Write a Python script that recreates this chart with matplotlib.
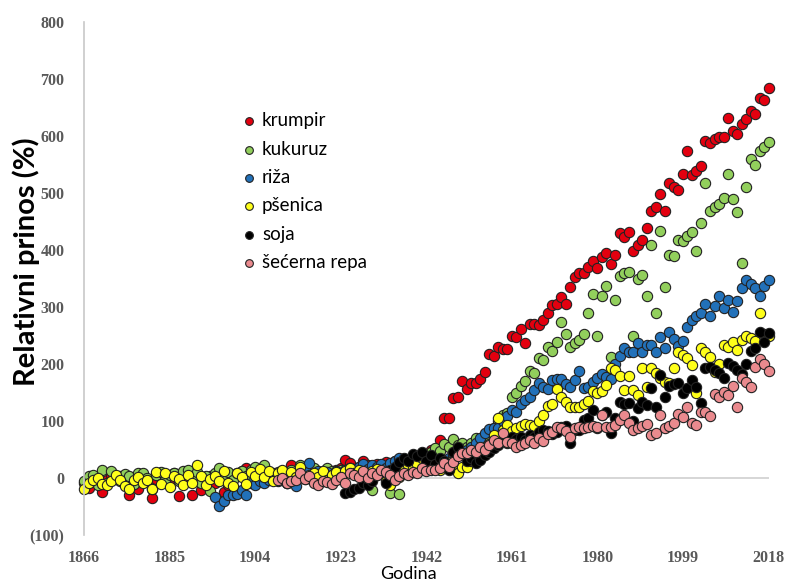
import matplotlib
matplotlib.use("Agg")
import matplotlib.pyplot as plt
import numpy as np

# relativni prinos (%) po godinama, ocitano sa slike
krumpir_years = np.arange(1866, 2019)
krumpir = [
    -8, -18, -5, 2, -24, -3, 5, -2, 3, -8, -30, 0, -20, 4, -6, -35, -2, 6, 3, -4,
    8, -31, 2, -6, -30, 4, -21, -10, 3, -8, 5, -25, -12, 0, 6, 12, 17, 8, 3, 10,
    5, -2, 8, 4, 10, -3, 23, 12, 6, 15, 3, 10, 5, 12, 2, -5, 14, 18, 32, 26,
    15, 20, 30, 22, 18, 25, 20, 28, 15, 30, 25, 34, 28, 35, 30, 40, 36, 49, 46, 67,
    105, 105, 140, 142, 170, 156, 166, 166, 173, 186, 217, 214, 229, 226, 226, 250, 247, 261, 236, 271,
    270, 268, 277, 289, 304, 306, 317, 306, 335, 352, 359, 359, 371, 380, 368, 387, 394, 375, 392, 429,
    422, 431, 399, 408, 417, 438, 469, 475, 499, 469, 518, 510, 506, 534, 573, 531, 539, 548, 592, 588,
    595, 599, 599, 632, 609, 604, 621, 630, 644, 639, 667, 664, 685,
]

kukuruz_years = np.arange(1866, 2019)
kukuruz = [
    -6, 3, 6, -12, 14, -8, 12, 2, -5, 7, 4, -10, 8, 9, 0, -20, 6, 10, -4, 5,
    8, -6, 12, 14, 2, 10, -8, 4, -22, 8, 17, 5, 10, -4, 9, 12, 3, 14, 19, 8,
    23, 6, -2, 10, 3, -8, 14, 8, 23, 15, 6, 18, 10, 4, 17, 12, 5, 14, 10, 18,
    8, 12, 15, 6, -21, 12, 18, 10, -27, 8, -28, 20, 25, 28, 32, 38, 42, 45, 52, 48,
    60, 55, 68, 58, 62, 55, 61, 70, 66, 75, 80, 88, 100, 110, 114, 142, 149, 161, 170, 187,
    184, 210, 207, 230, 222, 238, 273, 252, 230, 236, 242, 252, 289, 322, 250, 320, 336, 212, 312, 355,
    359, 361, 250, 350, 357, 319, 408, 289, 434, 335, 391, 389, 418, 415, 425, 432, 399, 448, 517, 469,
    475, 481, 492, 534, 489, 466, 377, 510, 560, 550, 573, 580, 590,
]

riza_years = np.arange(1895, 2019)
riza = [
    -33, -49, -40, -30, -30, -28, -21, -30, -9, -12, -6, -9, -4, 2, -5, 3, -8, 0, -14, 5,
    18, 26, 8, 12, 4, 10, 6, 12, 8, 14, 18, 10, 20, 24, 15, 22, 20, 25, 18, 26,
    30, 35, 28, 32, 36, 30, 35, 38, 30, 26, 32, 28, 35, 40, 45, 42, 50, 55, 62, 70,
    79, 86, 88, 88, 100, 108, 119, 116, 130, 137, 142, 154, 166, 159, 156, 172, 173, 173, 165, 159,
    172, 187, 158, 159, 168, 176, 182, 177, 173, 200, 214, 228, 221, 221, 236, 221, 233, 233, 221, 247,
    228, 256, 243, 231, 240, 265, 277, 285, 289, 306, 285, 301, 320, 298, 312, 291, 310, 334, 347, 341,
    334, 320, 336, 347,
]

psenica_years = np.arange(1866, 2019)
psenica = [
    -19, -8, -3, 0, -10, -12, -6, 5, -4, -14, -19, -3, 2, -8, -4, -19, 10, -10, 8, -15,
    4, -2, -12, 6, -8, 22, 3, -12, -2, 4, -6, 12, -8, -14, 8, 2, -10, 10, 3, 15,
    2, 12, -5, 8, 14, -2, 10, 2, 20, -2, 5, 8, 2, 12, -4, 6, 10, 2, 12, 18,
    8, 14, 10, 5, 12, 16, 8, -5, -12, 10, 2, 15, 22, 18, 24, 35, 32, 28, 20, 14,
    22, 28, 25, 9, 20, 19, 30, 34, 38, 45, 60, 75, 105, 85, 93, 82, 88, 91, 95, 93,
    91, 100, 110, 126, 130, 156, 142, 133, 124, 124, 124, 130, 135, 152, 149, 152, 163, 193, 189, 179,
    154, 179, 154, 145, 193, 160, 193, 184, 175, 168, 166, 193, 221, 215, 210, 198, 150, 228, 221, 212,
    186, 200, 233, 229, 238, 224, 242, 249, 246, 240, 289, 252, 250,
]

soja_years = np.arange(1924, 2019)
soja = [
    -26, -24, -20, -18, -9, -12, -5, 5, 10, -9, 14, 20, 28, 35, 30, 42, 38, 45, 30, 40,
    25, 35, 30, 14, 45, 54, 40, 30, 35, 26, 32, 40, 45, 52, 58, 65, 62, 72, 68, 72,
    66, 75, 72, 80, 85, 82, 78, 80, 90, 92, 61, 84, 84, 102, 105, 119, 88, 110, 116, 79,
    105, 133, 130, 131, 100, 123, 133, 128, 158, 124, 180, 142, 161, 165, 166, 149, 158, 172, 159, 131,
    193, 194, 189, 184, 175, 201, 196, 189, 182, 200, 222, 228, 256, 238, 254,
]

repa_years = np.arange(1909, 2019)
repa = [
    -3, 0, -8, -5, -4, 9, -2, 4, -9, -12, -6, -7, -10, -4, 2, -8, 9, 5, 2, 12,
    0, 9, 5, 14, 11, 6, -3, 4, 9, 6, 11, 8, 18, 12, 14, 14, 18, 26, 20, 28,
    39, 44, 44, 49, 46, 54, 50, 58, 67, 61, 79, 63, 61, 54, 58, 61, 66, 61, 70, 65,
    77, 80, 89, 88, 82, 72, 88, 89, 88, 89, 92, 89, 110, 89, 89, 93, 102, 110, 96, 84,
    88, 91, 95, 75, 79, 110, 88, 91, 96, 112, 107, 124, 96, 93, 116, 116, 109, 147, 142, 151,
    145, 161, 124, 175, 168, 159, 194, 208, 200, 187,
]

series = [
    ("krumpir", krumpir_years, krumpir, "#e3000f"),
    ("kukuruz", kukuruz_years, kukuruz, "#92cf5c"),
    ("riža", riza_years, riza, "#2271b9"),
    ("pšenica", psenica_years, psenica, "#ffff1a"),
    ("soja", soja_years, soja, "#000000"),
    ("šećerna repa", repa_years, repa, "#ea8a8e"),
]

x_ticks = [1866, 1885, 1904, 1923, 1942, 1961, 1980, 1999, 2018]
y_ticks = [-100, 0, 100, 200, 300, 400, 500, 600, 700, 800]
y_tick_labels = ["(100)", "0", "100", "200", "300", "400", "500", "600", "700", "800"]

fig = plt.figure(figsize=(7.87, 5.84), dpi=100)
ax = fig.add_axes([84 / 787, 1 - 535 / 584, 685 / 787, 513 / 584])

ax.axhline(0, color="#d0d0d0", linewidth=1.2, zorder=0)
for name, years, values, color in series:
    ax.scatter(years, values, s=55, color=color, edgecolors="#222222",
               linewidths=0.8, label=name, clip_on=False)

ax.set_xlim(1866, 2018.1)
ax.set_ylim(-100, 800)
ax.set_xticks(x_ticks)
ax.set_yticks(y_ticks)
ax.set_yticklabels(y_tick_labels)
for spine in ["top", "right", "bottom"]:
    ax.spines[spine].set_visible(False)
ax.spines["left"].set_color("#c8c8c8")
ax.spines["left"].set_linewidth(1.2)
ax.tick_params(length=0)
ax.tick_params(axis="x", pad=11)
ax.tick_params(axis="y", pad=14)
for label in ax.get_xticklabels() + ax.get_yticklabels():
    label.set_fontfamily("Liberation Serif")
    label.set_fontweight("bold")
    label.set_fontsize(11.5)
    label.set_color("#595959")

fig.text(26 / 787, 1 - 262 / 584, "Relativni prinos (%)", rotation=90,
         ha="center", va="center", fontsize=21, fontweight="bold", family="Lato")
fig.text(408 / 787, 1 - 574 / 584, "Godina", ha="center", va="center",
         fontsize=13, family="Lato")

legend = ax.legend(loc="upper left", bbox_to_anchor=(0.216, 0.839), frameon=False,
                   prop={"family": "Lato", "size": 13.5}, markerscale=0.75,
                   handletextpad=0.2, labelspacing=0.61, handlelength=1.0,
                   borderaxespad=0)

fig.savefig("out.png", dpi=100)
